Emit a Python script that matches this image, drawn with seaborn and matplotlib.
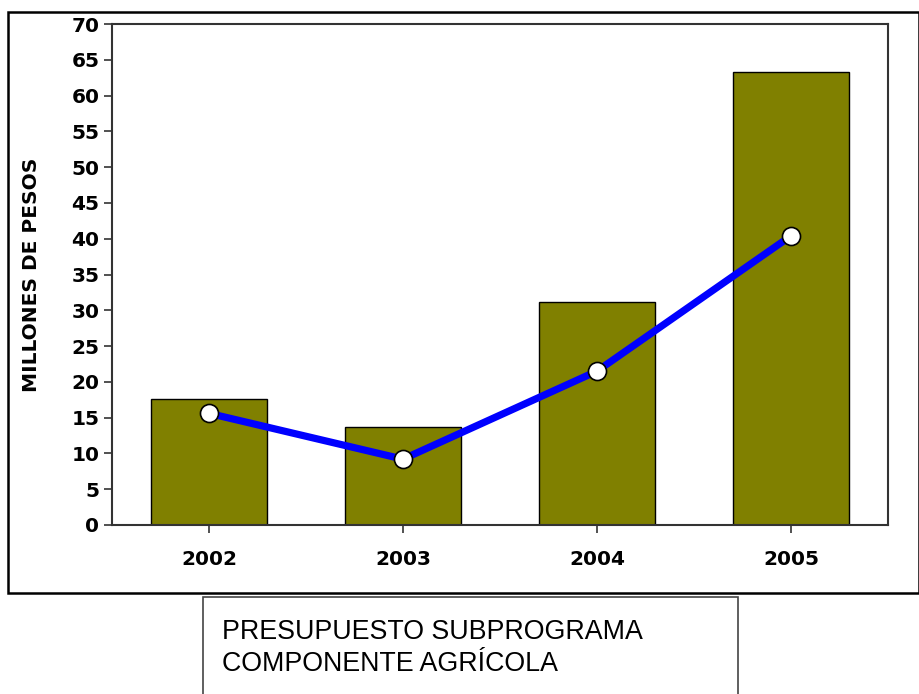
import matplotlib
matplotlib.use("Agg")
import matplotlib.pyplot as plt
from matplotlib.patches import Rectangle
import seaborn as sns
import pandas as pd

# Budget data (millions of pesos)
years = ["2002", "2003", "2004", "2005"]
budget = [17.6, 13.7, 31.2, 63.3]
executed = [15.6, 9.2, 21.5, 40.4]
y_ticks = list(range(0, 71, 5))

sns.set_theme(style="white")
plt.rcParams["font.family"] = ["Liberation Sans", "DejaVu Sans"]

fig = plt.figure(figsize=(9.2, 6.94), dpi=100)
ax = fig.add_axes([112 / 920, 1 - 525 / 694, 776 / 920, 501 / 694])

df = pd.DataFrame({"year": years, "budget": budget, "executed": executed})
sns.barplot(data=df, x="year", y="budget", color="#808000", saturation=1,
            width=0.6, edgecolor="black", linewidth=1.0, ax=ax)
sns.lineplot(x=list(range(len(years))), y=executed, color="#0000ff",
             linewidth=5.2, marker="o", markersize=13,
             markerfacecolor="white", markeredgecolor="black",
             markeredgewidth=1.2, ax=ax, zorder=5)

bold = {"family": "DejaVu Sans", "weight": "bold", "size": 14.5}

ax.set_xlim(-0.5, 3.5)
ax.set_ylim(0, 70)
ax.set_yticks(y_ticks)
ax.set_yticklabels([str(t) for t in y_ticks], fontdict=bold, color="black")
ax.set_xticks(range(len(years)))
ax.set_xticklabels(years, fontdict=bold, color="black")
ax.set_xlabel("")
ax.set_ylabel("MILLONES DE PESOS", fontdict=bold, color="black", labelpad=22)

for s in ax.spines.values():
    s.set_visible(True)
    s.set_color("#333333")
    s.set_linewidth(1.5)
ax.tick_params(axis="both", direction="out", length=6, width=1.2,
               color="#333333", left=True, bottom=True)
ax.tick_params(axis="y", pad=3)
ax.tick_params(axis="x", pad=12)

# Outer frame around the chart
fig.patches.append(Rectangle((8 / 920, 1 - 593 / 694), 911 / 920, 581 / 694,
                             transform=fig.transFigure, fill=False,
                             edgecolor="black", linewidth=1.8))
# Caption box
fig.patches.append(Rectangle((203 / 920, -0.01), 535 / 920, 1 - 597 / 694 + 0.01,
                             transform=fig.transFigure, fill=False,
                             edgecolor="#444444", linewidth=1.2))
fig.text(222 / 920, 1 - 632 / 694, "PRESUPUESTO SUBPROGRAMA",
         fontsize=19.3, va="center", ha="left", color="black")
fig.text(222 / 920, 1 - 664 / 694, "COMPONENTE AGRÍCOLA",
         fontsize=19.3, va="center", ha="left", color="black")

fig.savefig("out.png", dpi=100)
